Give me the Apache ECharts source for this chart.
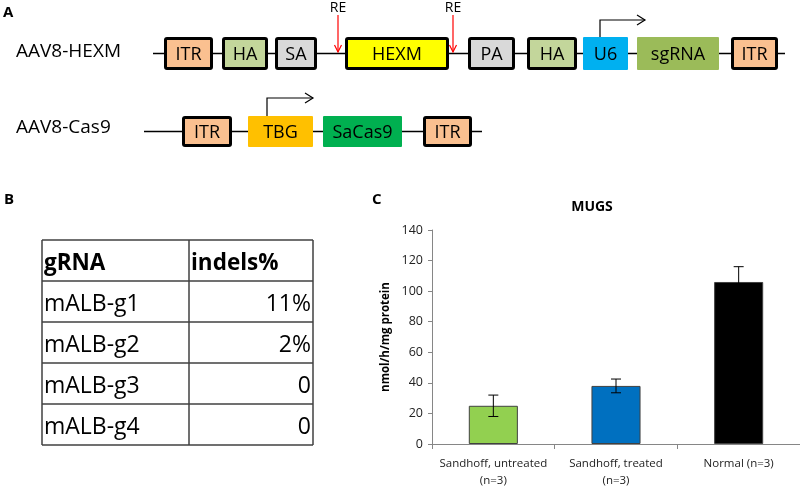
<!DOCTYPE html>
<html>
<head>
<meta charset="utf-8">
<script src="https://cdn.jsdelivr.net/npm/echarts@6/dist/echarts.min.js"></script>
<style>html,body{margin:0;padding:0;background:#fff}#c{width:800px;height:489px}</style>
</head>
<body>
<div id="c"></div>
<script>
// ---------- Data ----------
const hexmParts = ['ITR', 'HA', 'SA', 'HEXM', 'PA', 'HA', 'U6', 'sgRNA', 'ITR'];
const cas9Parts = ['ITR', 'TBG', 'SaCas9', 'ITR'];
const tableHeader = ['gRNA', 'indels%'];
const gRNAs = ['mALB-g1', 'mALB-g2', 'mALB-g3', 'mALB-g4'];
const indels = ['11%', '2%', '0', '0'];
const categories = ['Sandhoff, untreated\n(n=3)', 'Sandhoff, treated\n(n=3)', 'Normal (n=3)'];
const mugs = [25, 38, 106];
const mugsErr = [7, 4.5, 10];
const yTicks = [0, 20, 40, 60, 80, 100, 120, 140];

// ---------- Layout / styles ----------
const FONT = '"Open Sans", sans-serif';
const partStyle = {
  ITR: { fill: '#FAC090', border: true },
  HA: { fill: '#C3D69B', border: true },
  SA: { fill: '#D9D9D9', border: true },
  HEXM: { fill: '#FFFF00', border: true },
  PA: { fill: '#D9D9D9', border: true },
  U6: { fill: '#00B0F0', border: false },
  sgRNA: { fill: '#9BBB59', border: false },
  TBG: { fill: '#FFC000', border: false },
  SaCas9: { fill: '#00B050', border: false }
};
const hexmLayout = { y: 37, h: 33, line: [153, 785], x: [[164,213],[222,268],[275,317],[345,449],[468,515],[527,577],[583,628],[637,719],[731,778]] };
const cas9Layout = { y: 116, h: 31, line: [144, 482], x: [[182,232],[248,313],[323,402],[423,472]] };

const g = [];
function txt(t, x, y, size, opts) {
  g.push({ type: 'text', z: 10, style: Object.assign({ text: t, x: x, y: y, font: (opts && opts.bold ? 'bold ' : '') + size + 'px ' + FONT, fill: '#000', align: 'center', verticalAlign: 'middle' }, opts && opts.style || {}) });
}
function line(x1, y1, x2, y2, stroke, w) {
  g.push({ type: 'line', shape: { x1, y1, x2, y2 }, style: { stroke: stroke, lineWidth: w } });
}
function poly(points, stroke, w) {
  g.push({ type: 'polyline', shape: { points }, style: { stroke: stroke, lineWidth: w, fill: null } });
}
function construct(parts, lay) {
  const cy = lay.y + lay.h / 2;
  line(lay.line[0], cy, lay.line[1], cy, '#000', 1.3);
  parts.forEach((p, i) => {
    const s = partStyle[p];
    const [x1, x2] = lay.x[i];
    if (s.border) {
      g.push({ type: 'rect', z: 5, shape: { x: x1 + 1.5, y: lay.y + 1.5, width: x2 - x1 - 3, height: lay.h - 3, r: 1.5 }, style: { fill: s.fill, stroke: '#000', lineWidth: 3 } });
    } else {
      g.push({ type: 'rect', z: 5, shape: { x: x1, y: lay.y, width: x2 - x1, height: lay.h, r: 1 }, style: { fill: s.fill } });
    }
    txt(p, (x1 + x2) / 2, cy + 1, 18);
  });
}

// Panel A
txt('A', 3, 13, 15, { bold: true, style: { align: 'left' } });
txt('AAV8-HEXM', 16, 52, 19, { style: { align: 'left' } });
txt('AAV8-Cas9', 16, 128, 19, { style: { align: 'left' } });
construct(hexmParts, hexmLayout);
construct(cas9Parts, cas9Layout);
// RE arrows
[338, 453].forEach(x => {
  txt('RE', x, 8, 14);
  line(x, 15, x, 52, '#FF0000', 1.2);
  poly([[x - 3.5, 45], [x, 52], [x + 3.5, 45]], '#FF0000', 1.2);
});
// promoter arrows
poly([[600, 37], [600, 20], [645, 20]], '#000', 1.2);
poly([[637, 15], [645, 20], [637, 25]], '#000', 1.2);
poly([[267, 116], [267, 98], [313, 98]], '#000', 1.2);
poly([[305, 93], [313, 98], [305, 103]], '#000', 1.2);

// Panel B
txt('B', 4, 200, 15, { bold: true, style: { align: 'left' } });
const tb = { l: 42, m: 189, r: 313, top: 240, rh: 41 };
const nRows = gRNAs.length + 1;
const tc = '#404040';
line(tb.l, tb.top, tb.l, tb.top + nRows * tb.rh, tc, 1.5);
line(tb.m, tb.top, tb.m, tb.top + nRows * tb.rh, tc, 1.5);
line(tb.r, tb.top, tb.r, tb.top + nRows * tb.rh, tc, 1.5);
for (let i = 0; i <= nRows; i++) line(tb.l, tb.top + i * tb.rh, tb.r, tb.top + i * tb.rh, tc, 1.5);
txt(tableHeader[0], tb.l + 2, tb.top + tb.rh / 2 + 3, 22.5, { bold: true, style: { align: 'left' } });
txt(tableHeader[1], tb.m + 2, tb.top + tb.rh / 2 + 3, 22.5, { bold: true, style: { align: 'left' } });
gRNAs.forEach((n, i) => {
  const cy = tb.top + (i + 1) * tb.rh + tb.rh / 2 + 3;
  txt(n, tb.l + 2, cy, 23, { style: { align: 'left' } });
  txt(indels[i], tb.r - 2, cy, 23, { style: { align: 'right' } });
});

// Panel C label
txt('C', 372, 200, 15, { bold: true, style: { align: 'left' } });

const barColors = ['#92D050', '#0070C0', '#000000'];
const chart = echarts.init(document.getElementById('c'), null, { renderer: 'canvas' });
chart.setOption({
  backgroundColor: '#fff',
  animation: false,
  title: { text: 'MUGS', left: 587, top: 195, textAlign: 'center', textStyle: { fontFamily: FONT, fontSize: 14, fontWeight: 'bold', color: '#000' } },
  grid: { left: 432, top: 230, width: 368, height: 218, containLabel: false },
  xAxis: {
    type: 'category', data: categories,
    axisLine: { lineStyle: { color: '#868686', width: 1 } },
    axisTick: { show: true, interval: 0, length: 5, lineStyle: { color: '#868686' } },
    axisLabel: { interval: 0, fontFamily: FONT, fontSize: 11.5, color: '#222', margin: 11, lineHeight: 17 }
  },
  yAxis: {
    type: 'value', min: yTicks[0], max: yTicks[yTicks.length - 1], interval: yTicks[1] - yTicks[0],
    name: 'nmol/h/mg protein', nameLocation: 'middle', nameGap: 40, nameRotate: 90,
    nameTextStyle: { fontFamily: FONT, fontSize: 11.5, fontWeight: 'bold', color: '#000' },
    axisLine: { show: true, lineStyle: { color: '#868686', width: 1 } },
    axisTick: { show: true, length: 4, lineStyle: { color: '#868686' } },
    splitLine: { show: false },
    axisLabel: { fontFamily: FONT, fontSize: 12.5, color: '#222', margin: 9 }
  },
  graphic: g,
  series: [
    {
      type: 'bar', barWidth: '40%',
      data: mugs.map((v, i) => ({ value: v, itemStyle: { color: barColors[i] } })),
      itemStyle: { borderColor: '#404040', borderWidth: 1 }
    },
    {
      type: 'custom', z: 5,
      data: mugs.map((v, i) => [i, v - mugsErr[i], v + mugsErr[i]]),
      renderItem: function (params, api) {
        const lo = api.coord([api.value(0), api.value(1)]);
        const hi = api.coord([api.value(0), api.value(2)]);
        const hw = 5;
        const st = { stroke: '#000', lineWidth: 1 };
        return { type: 'group', children: [
          { type: 'line', shape: { x1: hi[0], y1: hi[1], x2: lo[0], y2: lo[1] }, style: st },
          { type: 'line', shape: { x1: hi[0] - hw, y1: hi[1], x2: hi[0] + hw, y2: hi[1] }, style: st },
          { type: 'line', shape: { x1: lo[0] - hw, y1: lo[1], x2: lo[0] + hw, y2: lo[1] }, style: st }
        ] };
      }
    }
  ]
});
</script>
</body>
</html>
